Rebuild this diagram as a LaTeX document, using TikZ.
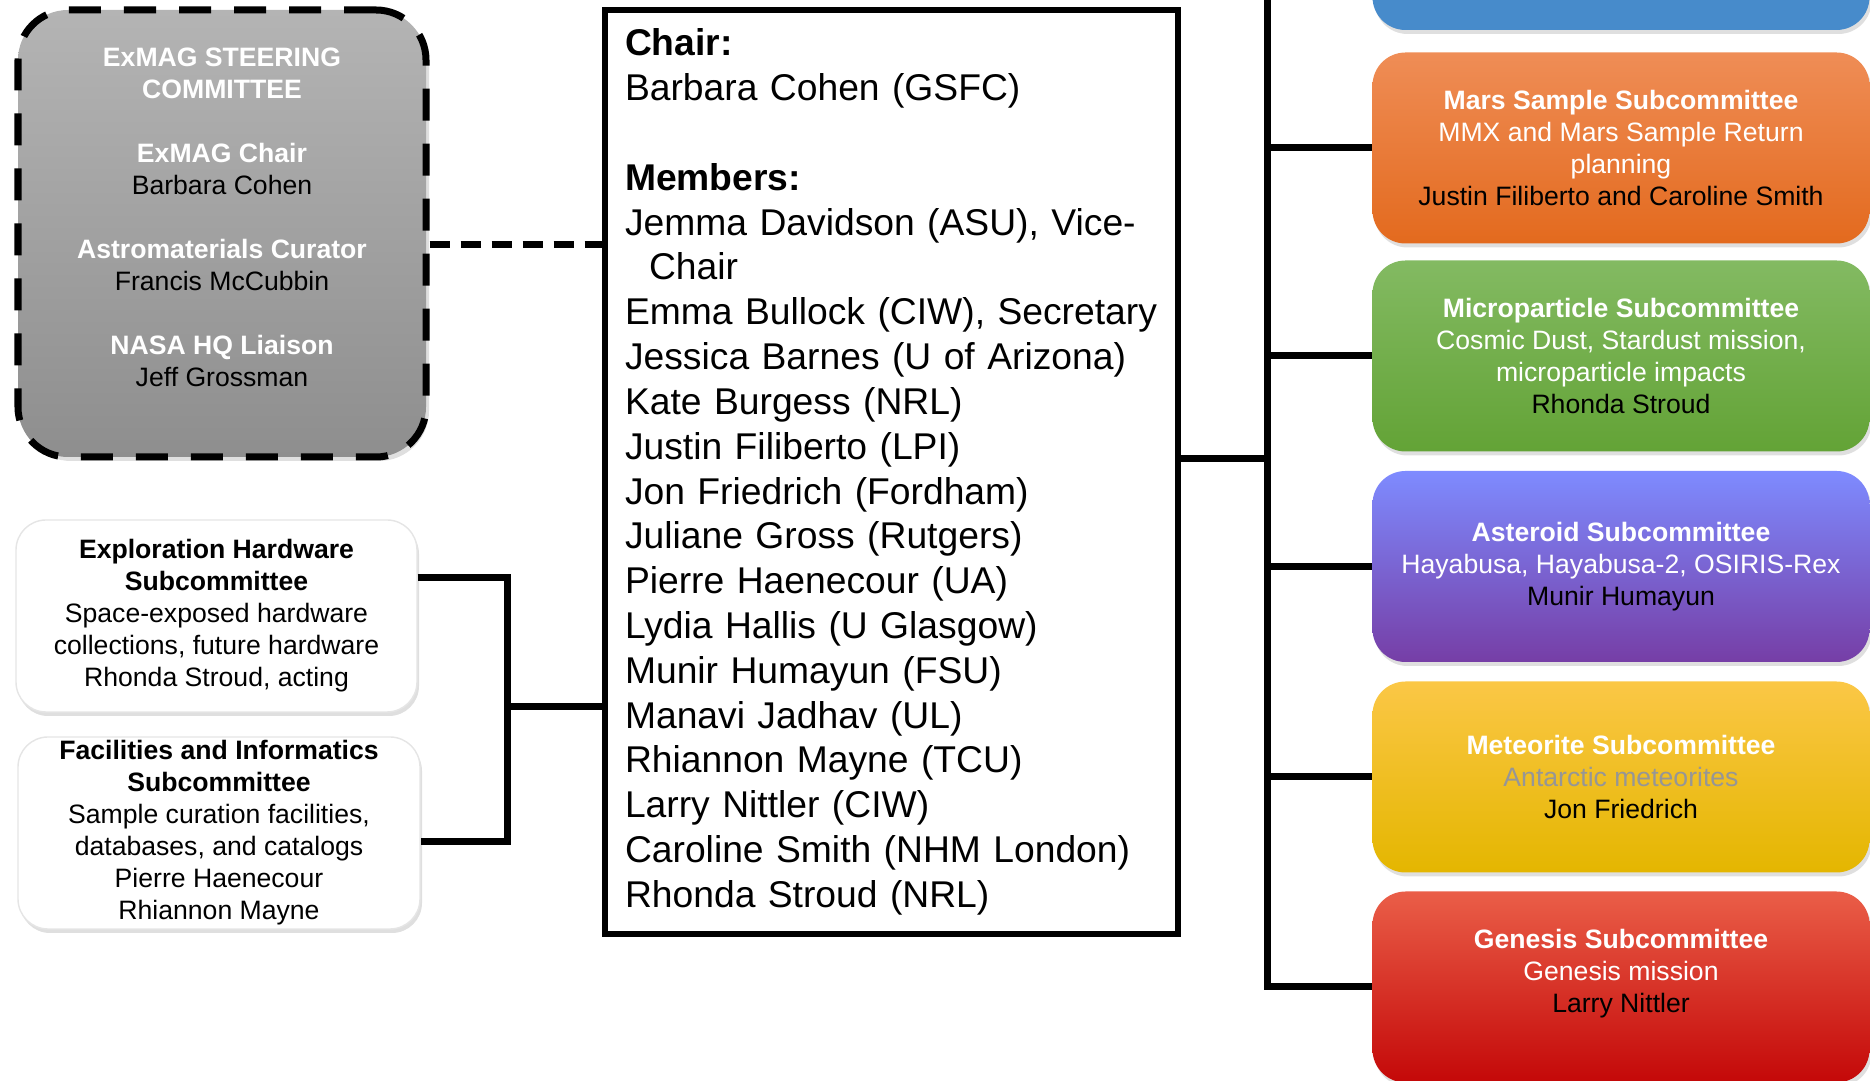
\documentclass[tikz,border=0pt]{standalone}
\usepackage{fontspec}
\setmainfont{Liberation Sans}
\usetikzlibrary{positioning,shadows}

\definecolor{steertop}{RGB}{180,180,180}
\definecolor{steerbot}{RGB}{142,142,142}
\definecolor{bluefill}{RGB}{71,139,203}
\definecolor{marstop}{RGB}{239,141,86}
\definecolor{marsbot}{RGB}{227,106,30}
\definecolor{microtop}{RGB}{131,186,98}
\definecolor{microbot}{RGB}{99,163,54}
\definecolor{asttop}{RGB}{126,139,255}
\definecolor{astbot}{RGB}{118,62,166}
\definecolor{mettop}{RGB}{251,199,70}
\definecolor{metbot}{RGB}{228,182,0}
\definecolor{gentop}{RGB}{234,94,72}
\definecolor{genbot}{RGB}{196,8,8}
\definecolor{antgray}{RGB}{150,150,150}

\begin{document}
\begin{tikzpicture}[
        link/.style = {line width=0.07cm},
        dashlink/.style = {line width=0.07cm, dash pattern=on 0.2cm off 0.11cm},
        smalltext/.style = {font=\fontsize{7.57}{9.1}\selectfont},
        subbox/.style = {smalltext, rounded corners=0.33cm, minimum width=4.97cm, minimum height=1.91cm,
            align=center, text=white, drop shadow={shadow xshift=0.02cm, shadow yshift=-0.04cm, opacity=0.25}},
        sidebox/.style = {smalltext, rounded corners=0.3cm, draw=black!10, fill=white, minimum height=1.92cm,
            inner ysep=0.02cm, align=center, drop shadow={shadow xshift=0.02cm, shadow yshift=-0.04cm, opacity=0.25}},
        steerbox/.style = {smalltext, rounded corners=0.5cm, line width=0.07cm, dash pattern=on 0.32cm off 0.23cm,
            draw, top color=steertop, bottom color=steerbot, minimum width=4.08cm, minimum height=4.47cm,
            align=center, drop shadow={shadow xshift=0.03cm, shadow yshift=-0.04cm, opacity=0.25}}
    ]
        \useasboundingbox (0, 0) rectangle (18.70, -10.81);
        \clip (0, 0) rectangle (18.70, -10.81);

        % steering committee
        \node [steerbox] (steer) at (2.22, -2.335) {
            \textcolor{white}{\bfseries ExMAG STEERING}\\
            \textcolor{white}{\bfseries COMMITTEE}\\[0.32cm]
            \textcolor{white}{\bfseries ExMAG Chair}\\
            Barbara Cohen\\[0.32cm]
            \textcolor{white}{\bfseries Astromaterials Curator}\\
            Francis McCubbin\\[0.32cm]
            \textcolor{white}{\bfseries NASA HQ Liaison}\\
            Jeff Grossman\\ \mbox{}};

        % left subcommittees
        \node [sidebox, minimum width=4.01cm] (explore) at (2.165, -6.16) {
            \textbf{Exploration Hardware}\\
            \textbf{Subcommittee}\\
            Space-exposed hardware\\
            collections, future hardware\\
            Rhonda Stroud, acting};
        \node [sidebox, minimum width=4.02cm] (facil) at (2.19, -8.33) {
            \textbf{Facilities and Informatics}\\
            \textbf{Subcommittee}\\
            Sample curation facilities,\\
            databases, and catalogs\\
            Pierre Haenecour\\
            Rhiannon Mayne};

        % board
        \node [draw, line width=0.065cm, outer sep=0, anchor=north west, minimum width=5.73cm, minimum height=9.24cm,
            text width=5.33cm, inner xsep=0.2cm, align=left, font=\fontsize{10.6}{12.75}\selectfont]
            (members) at (6.05, -0.10) {
            \textbf{Chair:}\\
            Barbara Cohen (GSFC)\\[0.448cm]
            \textbf{Members:}\\
            Jemma Davidson (ASU), Vice-\\
            \hspace*{0.24cm}Chair\\
            \mbox{Emma Bullock (CIW), Secretary}\\
            Jessica Barnes (U of Arizona)\\
            Kate Burgess (NRL)\\
            Justin Filiberto (LPI)\\
            Jon Friedrich (Fordham)\\
            Juliane Gross (Rutgers)\\
            Pierre Haenecour (UA)\\
            Lydia Hallis (U Glasgow)\\
            Munir Humayun (FSU)\\
            Manavi Jadhav (UL)\\
            Rhiannon Mayne (TCU)\\
            Larry Nittler (CIW)\\
            Caroline Smith (NHM London)\\
            Rhonda Stroud (NRL)};

        % right subcommittees
        \node [subbox, fill=bluefill] (blue) at (16.21, 0.655) {};
        \node [subbox, top color=marstop, bottom color=marsbot] (mars) at (16.21, -1.48) {
            \textbf{Mars Sample Subcommittee}\\
            MMX and Mars Sample Return\\
            planning\\
            \textcolor{black}{Justin Filiberto and Caroline Smith}};
        \node [subbox, top color=microtop, bottom color=microbot] (micro) at (16.21, -3.56) {
            \textbf{Microparticle Subcommittee}\\
            Cosmic Dust, Stardust mission,\\
            microparticle impacts\\
            \textcolor{black}{Rhonda Stroud}};
        \node [subbox, top color=asttop, bottom color=astbot] (asteroid) at (16.21, -5.665) {
            \textbf{Asteroid Subcommittee}\\
            Hayabusa, Hayabusa-2, OSIRIS-Rex\\
            \textcolor{black}{Munir Humayun}};
        \node [subbox, top color=mettop, bottom color=metbot] (meteorite) at (16.21, -7.77) {
            \textbf{Meteorite Subcommittee}\\
            \textcolor{antgray}{Antarctic meteorites}\\
            \textcolor{black}{Jon Friedrich}};
        \node [subbox, top color=gentop, bottom color=genbot] (genesis) at (16.21, -9.87) {
            \textbf{Genesis Subcommittee}\\
            Genesis mission\\
            \textcolor{black}{Larry Nittler}\\ \mbox{}};

        % connectors
        \coordinate (steerout) at ([yshift=-0.115cm]steer.east);
        \draw [dashlink] (steerout) -- (steerout -| members.west);

        \coordinate (exout) at ([yshift=0.38cm]explore.east);
        \coordinate (faout) at ([yshift=-0.09cm]facil.east);
        \coordinate (leftbus) at (5.07, -7.07);
        \draw [link] (exout) -| (leftbus) |- (faout);
        \draw [link] (leftbus) -- (leftbus -| members.west);

        \coordinate (memout) at ([yshift=0.13cm]members.east);
        \coordinate (rightbus) at (12.67, 0.2);
        \draw [link] (memout) -- (memout -| rightbus);
        \draw [link] (rightbus) |- (genesis.west);
        \draw [link] (rightbus |- mars.west) -- (mars.west);
        \draw [link] (rightbus |- micro.west) -- (micro.west);
        \draw [link] (rightbus |- asteroid.west) -- (asteroid.west);
        \draw [link] (rightbus |- meteorite.west) -- (meteorite.west);
    \end{tikzpicture}
\end{document}
